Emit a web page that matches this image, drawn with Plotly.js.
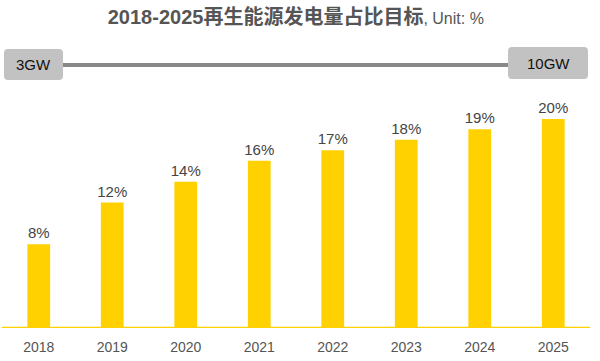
<!DOCTYPE html>
<html><head><meta charset="utf-8">
<script src="https://cdn.plot.ly/plotly-3.0.1.min.js"></script>
<style>html,body{margin:0;padding:0;background:#fff}#c{width:600px;height:361px}</style>
</head><body><div id="c"></div>
<script>
const years = ['2018','2019','2020','2021','2022','2023','2024','2025'];
const shares = [8, 12, 14, 16, 17, 18, 19, 20];
const labels = shares.map(v => v + '%');
const startCap = '3GW';
const endCap = '10GW';

const W = 600, H = 361;
const M = {l: 2, r: 10, t: 98, b: 33};
const pw = W - M.l - M.r, ph = H - M.t - M.b;
const px = x => (x - M.l) / pw;
const py = y => (H - M.b - y) / ph;
function rrect(x0, y0, x1, y1, r) {
  const X0 = px(x0), X1 = px(x1), Y0 = py(y1), Y1 = py(y0);
  const rx = r / pw, ry = r / ph;
  return `M${X0+rx},${Y0} L${X1-rx},${Y0} Q${X1},${Y0} ${X1},${Y0+ry} L${X1},${Y1-ry} Q${X1},${Y1} ${X1-rx},${Y1} L${X0+rx},${Y1} Q${X0},${Y1} ${X0},${Y1-ry} L${X0},${Y0+ry} Q${X0},${Y0} ${X0+rx},${Y0} Z`;
}
const font = 'Liberation Sans, Arial, Noto Sans CJK SC, sans-serif';
const yellow = '#FFD100';

const data = [{
  type: 'bar', x: years, y: shares, text: labels,
  textposition: 'outside', cliponaxis: false, constraintext: 'none',
  textfont: {family: font, size: 15, color: '#444'},
  marker: {color: yellow}, hoverinfo: 'none'
}];

const layout = {
  width: W, height: H,
  margin: M,
  paper_bgcolor: '#fff', plot_bgcolor: '#fff',
  bargap: 0.69,
  showlegend: false,
  title: {
    text: '<b>2018-2025再生能源发电量占比目标</b><span style="font-size:16px">, Unit: %</span>',
    font: {family: 'Liberation Sans, Noto Sans CJK SC, sans-serif', size: 20, color: '#555'},
    x: 0.493, xanchor: 'center', y: 1 - 17 / H, yanchor: 'middle'
  },
  xaxis: {
    type: 'category', range: [-0.5, 7.5],
    showgrid: false, zeroline: false, showline: false,
    ticks: 'outside', ticklen: 6, tickcolor: 'rgba(0,0,0,0)',
    tickfont: {family: font, size: 14, color: '#555'},
    fixedrange: true
  },
  yaxis: {
    range: [0, 22], visible: false, fixedrange: true
  },
  shapes: [
    {type: 'line', xref: 'paper', yref: 'y', x0: 0, x1: 1, y0: 0, y1: 0,
     line: {color: yellow, width: 2.5}},
    {type: 'line', xref: 'paper', yref: 'paper', x0: px(62), x1: px(509), y0: py(65), y1: py(65),
     line: {color: '#888', width: 4}},
    {type: 'path', xref: 'paper', yref: 'paper', path: rrect(4, 49, 63, 80, 4),
     fillcolor: '#c2c2c2', line: {width: 0}},
    {type: 'path', xref: 'paper', yref: 'paper', path: rrect(508, 47, 588, 79, 4),
     fillcolor: '#c2c2c2', line: {width: 0}}
  ],
  annotations: [
    {xref: 'paper', yref: 'paper', x: px(33.5), y: py(65), text: startCap, showarrow: false,
     font: {family: font, size: 15, color: '#111'}, xanchor: 'center', yanchor: 'middle'},
    {xref: 'paper', yref: 'paper', x: px(548), y: py(63), text: endCap, showarrow: false,
     font: {family: font, size: 15, color: '#111'}, xanchor: 'center', yanchor: 'middle'}
  ]
};
Plotly.newPlot('c', data, layout, {displayModeBar: false, staticPlot: true});
</script></body></html>
